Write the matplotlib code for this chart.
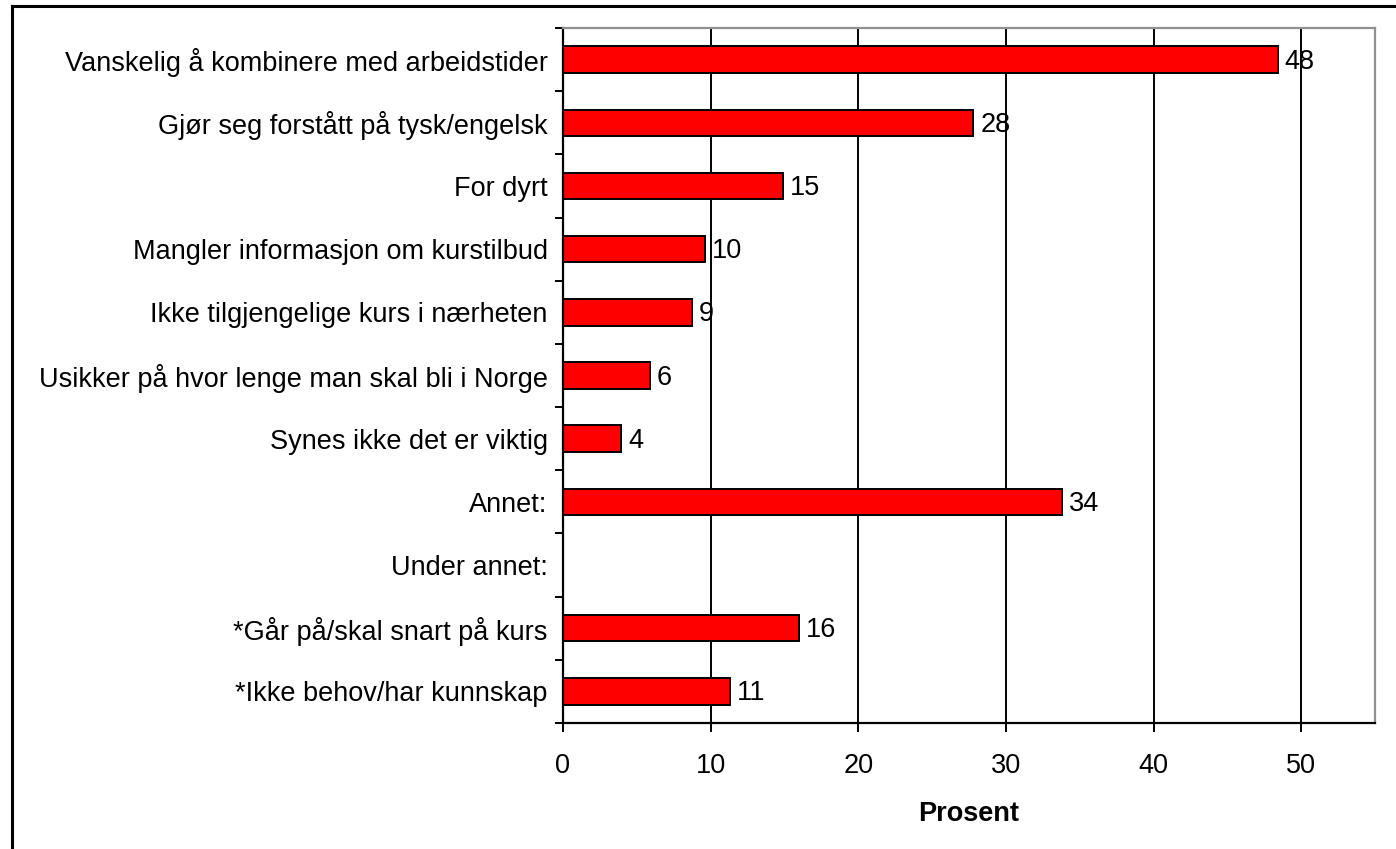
import matplotlib
matplotlib.use("Agg")
import matplotlib.pyplot as plt
from matplotlib.lines import Line2D
import numpy as np

plt.rcParams['font.family'] = ['Liberation Sans', 'DejaVu Sans']

categories = [
    "Vanskelig å kombinere med arbeidstider",
    "Gjør seg forstått på tysk/engelsk",
    "For dyrt",
    "Mangler informasjon om kurstilbud",
    "Ikke tilgjengelige kurs i nærheten",
    "Usikker på hvor lenge man skal bli i Norge",
    "Synes ikke det er viktig",
    "Annet:",
    "Under annet:",
    "*Går på/skal snart på kurs",
    "*Ikke behov/har kunnskap",
]
values = [48.4, 27.8, 14.9, 9.6, 8.75, 5.9, 3.95, 33.8, 0.0, 16.0, 11.3]
value_labels = ["48", "28", "15", "10", "9", "6", "4", "34", "", "16", "11"]
x_ticks = [0, 10, 20, 30, 40, 50]
x_label = "Prosent"

fig = plt.figure(figsize=(13.96, 8.49), dpi=100)
ax = fig.add_axes([563/1396, 1-723/849, (1375-563)/1396, (723-28)/849])

n = len(categories)
y = np.arange(n)
ax.set_xlim(0, 55)
ax.set_ylim(n - 0.5, -0.5)

for xv in x_ticks[1:]:
    ax.axvline(xv, color='black', linewidth=1.4, zorder=1)

ax.barh(y, values, height=0.42, color='#ff0000', edgecolor='black',
        linewidth=1.4, zorder=2)

FS = 19.5
for yi, v, lab in zip(y, values, value_labels):
    if lab:
        ax.annotate(lab, (v, yi), xytext=(5, -1.5), textcoords='offset points',
                    va='center', ha='left', fontsize=FS, color='black', zorder=3)

ax.set_yticks(y)
ax.set_yticklabels(categories, fontsize=FS)
ax.tick_params(axis='y', which='major', length=0, pad=11)
ax.set_yticks(np.arange(n + 1) - 0.5, minor=True)
ax.tick_params(axis='y', which='minor', length=6, width=1.4, direction='out')

ax.set_xticks(x_ticks)
ax.set_xticklabels([str(t) for t in x_ticks], fontsize=FS)
ax.tick_params(axis='x', length=6.5, width=1.4, direction='out', pad=15)
ax.set_xlabel(x_label, fontsize=FS, fontweight='bold', labelpad=16)

for s in ['left', 'bottom']:
    ax.spines[s].set_color('black')
    ax.spines[s].set_linewidth(1.6)
for s in ['top', 'right']:
    ax.spines[s].set_color('#909090')
    ax.spines[s].set_linewidth(1.6)

# outer frame (chart area border)
fig.add_artist(Line2D([12/1396, 12/1396], [-0.05, 1-6/849], transform=fig.transFigure,
                      color='black', linewidth=2.2))
fig.add_artist(Line2D([12/1396, 1.05], [1-6/849, 1-6/849], transform=fig.transFigure,
                      color='black', linewidth=2.2))

fig.savefig("out.png", dpi=100)
